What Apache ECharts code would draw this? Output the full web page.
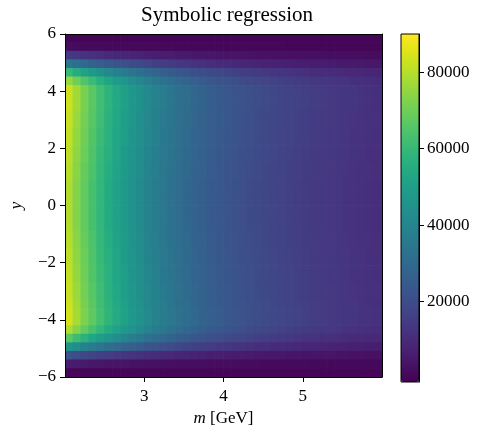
<!DOCTYPE html>
<html>
<head>
<meta charset="utf-8">
<script src="https://cdn.jsdelivr.net/npm/echarts@6/dist/echarts.min.js"></script>
<style>html,body{margin:0;padding:0;background:#fff}#c{width:478px;height:432px}</style>
</head>
<body>
<div id="c"></div>
<script>
// bin centres of m [GeV] (columns, left to right)
const mCenters = [2.05,2.15,2.25,2.35,2.45,2.55,2.65,2.75,2.85,2.95,3.05,3.15,3.25,3.35,3.45,3.55,3.65,3.75,3.85,3.95,4.05,4.15,4.25,4.35,4.45,4.55,4.65,4.75,4.85,4.95,5.05,5.15,5.25,5.35,5.45,5.55,5.65,5.75,5.85,5.95];
// bin centres of y (rows, listed from top to bottom, matching zRows)
const yCenters = [5.85,5.55,5.25,4.95,4.65,4.35,4.05,3.75,3.45,3.15,2.85,2.55,2.25,1.95,1.65,1.35,1.05,0.75,0.45,0.15,-0.15,-0.45,-0.75,-1.05,-1.35,-1.65,-1.95,-2.25,-2.55,-2.85,-3.15,-3.45,-3.75,-4.05,-4.35,-4.65,-4.95,-5.25,-5.55,-5.85];

// row value lists (one value per m bin)
const rowEdge0 = [300,300,200,200,200,200,200,200,100,100,100,100,100,100,100,100,100,100,100,100,100,100,100,100,100,100,100,100,100,100,100,100,0,0,0,0,0,0,0,0];
const rowEdge1 = [1700,1500,1400,1300,1200,1100,1000,1000,900,900,800,800,700,700,600,600,600,500,500,500,500,500,400,400,400,400,400,400,300,300,300,300,300,300,300,300,300,200,200,200];
const rowEdge2 = [14300,13200,12200,11400,10700,9900,9300,8700,8200,7700,7100,6700,6300,6000,5500,5300,5000,4700,4500,4200,4050,3900,3700,3500,3400,3300,3100,3000,2900,2800,2700,2600,2500,2400,2300,2300,2200,2100,2050,2000];
const rowEdge3 = [34400,31800,29600,27500,25700,23900,22400,21000,19600,18500,17200,16200,15200,14300,13400,12800,12000,11400,10800,10200,9800,9300,8900,8600,8200,7900,7600,7300,7000,6700,6500,6300,6000,5800,5600,5500,5300,5100,4950,4800];
const rowEdge4 = [59600,55100,51200,47700,44400,41400,38800,36300,34000,31900,29900,28000,26300,24700,23400,22000,20800,19700,18700,17700,16900,16200,15500,14800,14200,13600,13100,12600,12100,11700,11200,10800,10500,10100,9800,9450,9100,8900,8600,8300];
const rowEdge5 = [75600,69900,64900,60500,56300,52500,49100,46100,43200,40500,37900,35500,33300,31400,29600,27900,26400,24900,23700,22500,21500,20500,19600,18800,18000,17300,16600,16000,15400,14800,14300,13800,13300,12800,12400,12000,11600,11200,10900,10500];
const row100 = [84000,77700,72100,67200,62500,58300,54500,51200,48000,44900,42100,39400,37100,34900,32900,31000,29300,27800,26300,25000,23800,22800,21800,20900,20000,19200,18500,17800,17100,16500,15800,15300,14700,14200,13800,13300,12900,12500,12100,11700];
const row99 = [83200,77000,71400,66500,61900,57700,54000,50700,47500,44500,41700,39100,36700,34500,32500,30700,29000,27500,26000,24700,23600,22600,21600,20700,19800,19000,18300,17600,16900,16300,15700,15100,14600,14100,13600,13200,12800,12300,11900,11600];
const row98 = [82300,76200,70700,65800,61300,57200,53500,50200,46900,44100,41300,38700,36300,34200,32200,30400,28700,27200,25700,24500,23400,22300,21400,20500,19600,18800,18100,17400,16700,16100,15500,15000,14400,14000,13500,13000,12600,12200,11800,11500];
const row97 = [81500,75300,70000,65200,60700,56600,53000,49700,46500,43700,40900,38300,35900,33800,31900,30100,28400,27000,25500,24200,23100,22100,21200,20300,19400,18600,17900,17200,16600,16000,15400,14800,14300,13800,13400,12900,12500,12100,11700,11300];
const row96 = [80600,74500,69300,64500,60000,56100,52500,49100,46000,43200,40400,37900,35600,33500,31600,29800,28100,26700,25200,24000,22900,21900,20900,20000,19200,18500,17700,17000,16400,15800,15200,14700,14200,13700,13200,12800,12400,12000,11600,11200];
const row95 = [79800,73800,68500,63900,59400,55400,51800,48600,45600,42700,40000,37400,35200,33200,31300,29500,27800,26400,25000,23700,22600,21600,20700,19800,19000,18300,17500,16900,16200,15600,15000,14500,14000,13500,13100,12600,12200,11800,11500,11100];
const row94 = [79000,73000,67800,63100,58800,54800,51300,48200,45000,42300,39600,37100,34900,32800,30900,29200,27600,26100,24700,23500,22400,21400,20500,19600,18800,18100,17400,16700,16100,15500,14900,14400,13900,13400,12900,12500,12100,11700,11300,11000];
const rowLow5 = [66400,61400,57000,53000,49400,46100,43200,40400,37900,35500,33200,31200,29300,27500,25900,24500,23100,21900,20800,19700,18800,18000,17200,16500,15800,15200,14600,14000,13500,13000,12500,12100,11600,11200,10900,10500,10200,9850,9500,9200];
const rowLow4 = [46200,42700,39700,37000,34400,32100,30000,28100,26400,24800,23200,21700,20400,19200,18000,17000,16100,15300,14500,13700,13100,12500,12000,11500,11000,10600,10200,9800,9400,9050,8700,8400,8100,7800,7600,7300,7100,6900,6600,6400];
const rowLow3 = [21800,20200,18800,17500,16200,15200,14200,13300,12500,11700,11000,10300,9600,9100,8500,8100,7600,7200,6800,6500,6200,5900,5700,5400,5200,5000,4800,4600,4400,4300,4100,4000,3800,3700,3600,3500,3300,3200,3100,3000];
const rowLow2 = [6300,5800,5300,4900,4500,4200,3900,3700,3400,3200,3000,2800,2700,2500,2400,2300,2200,2100,2000,1900,1800,1700,1600,1600,1500,1400,1400,1300,1300,1200,1200,1100,1100,1100,1000,1000,1000,900,900,900];

// rows from top (y = 5.85) to bottom (y = -5.85)
const zRows = [
  rowEdge0, rowEdge1, rowEdge2, rowEdge3, rowEdge4, rowEdge5,
  row99, row99, row99, row98, row98, row97, row97, row96, row96, row95, row95,
  row94, row94, row94, row94, row94, row94,
  row95, row95, row96, row96, row97, row97, row98, row98, row99, row100, row100,
  row94, rowLow5, rowLow4, rowLow3, rowLow2, rowEdge0
];
const xTicks = [3, 4, 5];
const yTicks = [-6, -4, -2, 0, 2, 4, 6];
const cbTicks = [20000, 40000, 60000, 80000];
const xRange = [2, 6];
const yRange = [-6, 6];
const cbMin = -1000, cbMax = 90000;
const titleText = 'Symbolic regression';

const viridis = ['#440154','#471365','#482475','#463480','#414487','#3b528b','#355f8d','#2f6c8e','#2a788e','#25848e','#21918c','#1e9c89','#22a884','#2fb47c','#44bf70','#5ec962','#7ad151','#9bd93c','#bddf26','#dfe318','#fde725'];
const FONT = "'Liberation Serif', 'DejaVu Serif', serif";

const data = [];
for (let r = 0; r < zRows.length; r++) {
  for (let c = 0; c < mCenters.length; c++) {
    data.push([mCenters[c], yCenters[r], zRows[r][c]]);
  }
}
const halfW = (mCenters[1] - mCenters[0]) / 2;
const halfH = (yCenters[0] - yCenters[1]) / 2;
const minus = v => String(v).replace('-', '\u2212');
const plain = v => String(v);

const frameAxis = {axisLine: {show: true, onZero: false, lineStyle: {color: '#000', width: 1}}, axisTick: {show: false}, axisLabel: {show: false}, splitLine: {show: false}};
const labelStyle = {fontFamily: FONT, fontSize: 17, color: '#000'};

const chart = echarts.init(document.getElementById('c'), null, {renderer: 'canvas'});
chart.setOption({
  animation: false,
  backgroundColor: '#fff',
  title: {
    text: titleText, left: 222, top: 0, textAlign: 'center',
    textStyle: {fontFamily: FONT, fontSize: 21, fontWeight: 'normal', color: '#000'}
  },
  grid: [
    {left: 62, top: 34, width: 320, height: 348, containLabel: false},
    {left: 401, top: 34, width: 18, height: 348, show: true, borderColor: '#000', borderWidth: 1, backgroundColor: 'transparent', z: 10}
  ],
  xAxis: [
    Object.assign({type: 'value', gridIndex: 0, position: 'bottom', min: xRange[0], max: xRange[1], z: 5,
     axisTick: {show: true, length: 5, customValues: xTicks, lineStyle: {color: '#000'}},
     axisLabel: Object.assign({customValues: xTicks, margin: 11, formatter: plain}, labelStyle),
     name: '{i|m} [GeV]', nameLocation: 'middle', nameGap: 33,
     nameTextStyle: Object.assign({rich: {i: Object.assign({fontStyle: 'italic'}, labelStyle)}}, labelStyle)},
     {axisLine: frameAxis.axisLine, splitLine: {show: false}}),
    Object.assign({type: 'value', gridIndex: 0, position: 'top', min: xRange[0], max: xRange[1], z: 5}, frameAxis),
    {type: 'value', gridIndex: 1, show: false, min: 0, max: 1}
  ],
  yAxis: [
    Object.assign({type: 'value', gridIndex: 0, position: 'left', min: yRange[0], max: yRange[1], interval: 2, z: 5,
     axisTick: {show: true, length: 5, customValues: yTicks, lineStyle: {color: '#000'}},
     axisLabel: Object.assign({customValues: yTicks, margin: 9, formatter: minus}, labelStyle),
     name: '{i|y}', nameLocation: 'middle', nameGap: 40,
     nameTextStyle: Object.assign({rich: {i: Object.assign({fontStyle: 'italic'}, labelStyle)}}, labelStyle)},
     {axisLine: frameAxis.axisLine, splitLine: {show: false}}),
    Object.assign({type: 'value', gridIndex: 0, position: 'right', min: yRange[0], max: yRange[1], z: 5}, frameAxis),
    {type: 'value', gridIndex: 1, position: 'right', min: cbMin, max: cbMax, z: 12,
     axisLine: {show: true, onZero: false, lineStyle: {color: '#000', width: 1}},
     axisTick: {show: true, length: 5, customValues: cbTicks, lineStyle: {color: '#000'}},
     axisLabel: Object.assign({customValues: cbTicks, margin: 8, formatter: plain}, labelStyle),
     splitLine: {show: false}}
  ],
  visualMap: {
    type: 'continuous', seriesIndex: 0, dimension: 2, min: cbMin, max: cbMax,
    calculable: false, hoverLink: false, orient: 'vertical',
    left: 401, top: 34, itemWidth: 18, itemHeight: 348, padding: 0,
    inRange: {color: viridis}
  },
  series: [{
    type: 'custom', xAxisIndex: 0, yAxisIndex: 0, data: data, clip: true,
    encode: {x: 0, y: 1},
    renderItem: function (params, api) {
      const m = api.value(0), y = api.value(1);
      const p0 = api.coord([m - halfW, y + halfH]);
      const p1 = api.coord([m + halfW, y - halfH]);
      return {
        type: 'rect',
        shape: {x: p0[0] - 0.35, y: p0[1] - 0.35, width: p1[0] - p0[0] + 0.7, height: p1[1] - p0[1] + 0.7},
        style: {fill: api.visual('color')}
      };
    }
  }]
});
</script>
</body>
</html>
